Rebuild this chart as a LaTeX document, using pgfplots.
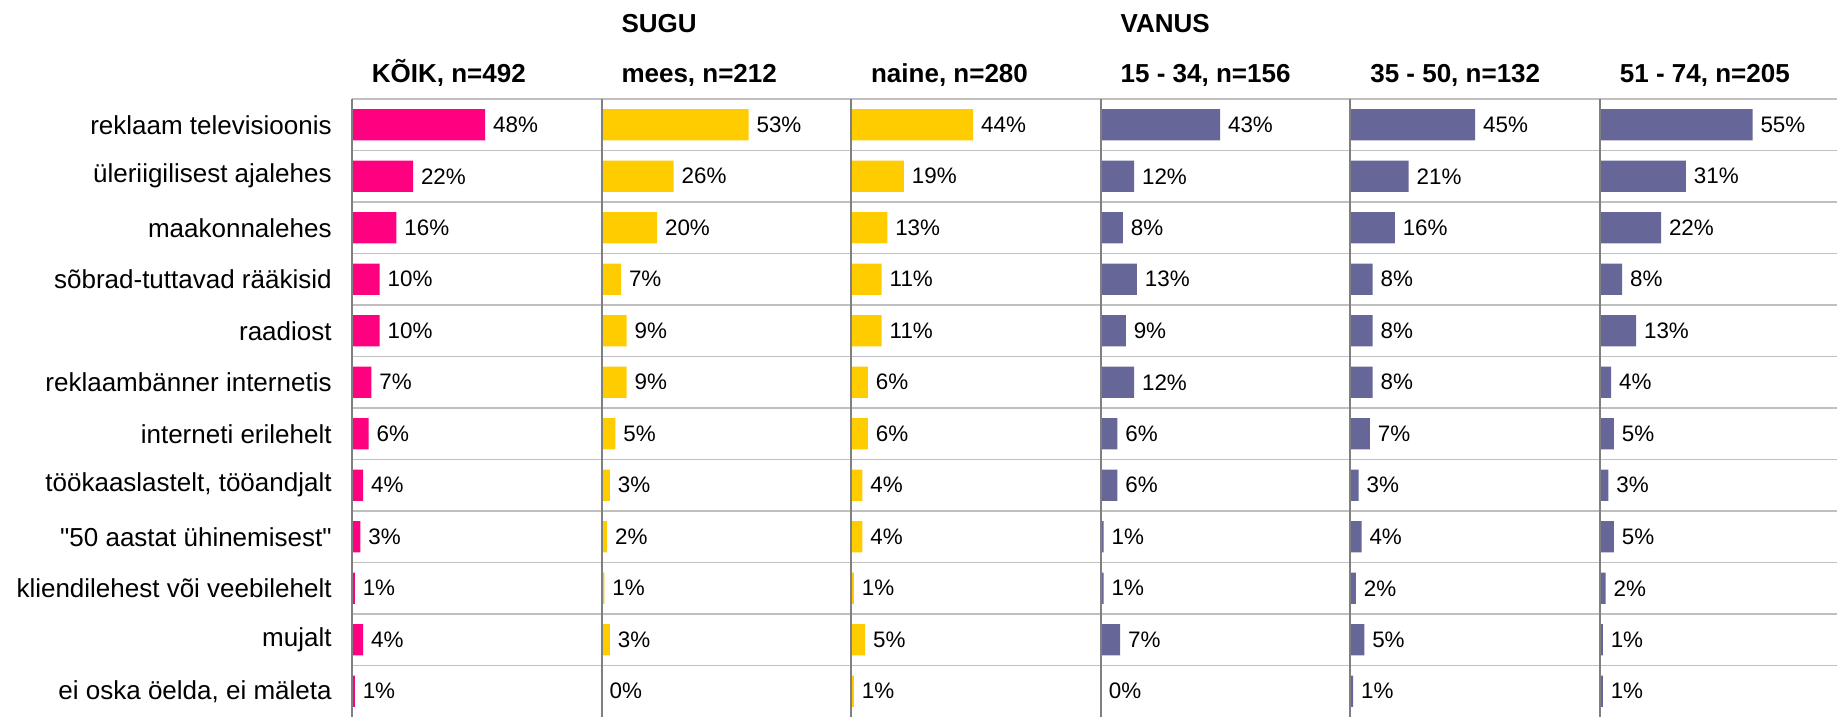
\documentclass[border=0pt]{standalone}
\usepackage{pgfplots}
\usepackage{pgfplotstable}
\pgfplotsset{compat=1.18}
\usepackage{fontspec}
\setmainfont{Liberation Sans}
\definecolor{pinkc}{HTML}{FF0080}
\definecolor{goldc}{HTML}{FFCC00}
\definecolor{purplec}{HTML}{666699}
\definecolor{axisgray}{HTML}{808080}
\definecolor{gridgray}{HTML}{C0C0C0}
\newcommand\catfont{\fontsize{13}{15}\selectfont}
\newcommand\valfont{\fontsize{11.2}{13}\selectfont}
\newcommand\titfont{\fontsize{13}{15}\selectfont\bfseries}

\pgfplotstableread{
i  k   m   n   a   b   c
1  48  53  44  43  45  55
2  22  26  19  12  21  31
3  16  20  13  8   16  22
4  10  7   11  13  8   8
5  10  9   11  9   8   13
6  7   9   6   12  8   4
7  6   5   6   6   7   5
8  4   3   4   6   3   3
9  3   2   4   1   4   5
10 1   1   1   1   2   2
11 4   3   5   7   5   1
12 1   0   1   0   1   1
}\data

\pgfplotsset{panel/.style={
  xbar, scale only axis, width=124.8pt, height=309pt,
  xmin=0, xmax=90, ymin=0.5, ymax=12.5, y dir=reverse,
  axis x line=none, axis y line*=left, axis on top,
  y axis line style={-, draw=axisgray, line width=1pt},
  ytick={1,...,12}, yticklabels={}, major tick length=0,
  minor ytick={0.5,1.5,...,11.5}, yminorgrids=true,
  minor grid style={draw=gridgray, line width=0.65pt}, minor tick length=0,
  bar width=15.7pt, point meta=x,
  /pgf/number format/assume math mode=true,
  nodes near coords={\pgfmathprintnumber[fixed,precision=0,assume math mode=true]{\pgfplotspointmeta}\%},
  every node near coord/.append style={font=\valfont, anchor=west, inner sep=0pt, xshift=3.8pt, text=black},
  title style={at={(0,1)}, anchor=base west, xshift=9.75pt, yshift=2pt, inner sep=0pt, font=\titfont},
  clip=false, anchor=south west,
}}

\begin{document}
\begin{tikzpicture}
\useasboundingbox (0,0) rectangle (918.5pt,358.5pt);
\begin{axis}[panel, at={(176pt,0pt)}, title={KÕIK, n=492},
  yticklabels={reklaam televisioonis, üleriigilisest ajalehes, maakonnalehes, sõbrad-tuttavad rääkisid, raadiost, reklaambänner internetis, interneti erilehelt, {töökaaslastelt, tööandjalt}, \textquotedbl50 aastat ühinemisest\textquotedbl, kliendilehest või veebilehelt, mujalt, {ei oska öelda, ei mäleta}},
  yticklabel style={anchor=east, font=\catfont, inner sep=0pt, xshift=-10pt}]
\addplot[fill=pinkc, draw=none] table[x=k, y=i] {\data};
\end{axis}
\begin{axis}[panel, at={(300.8pt,0pt)}, title={mees, n=212}]
\addplot[fill=goldc, draw=none] table[x=m, y=i] {\data};
\node[anchor=base west, inner sep=0pt, font=\titfont] at (rel axis cs:0,0) [yshift=342.15pt, xshift=9.75pt] {SUGU};
\end{axis}
\begin{axis}[panel, at={(425.6pt,0pt)}, title={naine, n=280}]
\addplot[fill=goldc, draw=none] table[x=n, y=i] {\data};
\end{axis}
\begin{axis}[panel, at={(550.4pt,0pt)}, title={15 - 34, n=156}]
\addplot[fill=purplec, draw=none] table[x=a, y=i] {\data};
\node[anchor=base west, inner sep=0pt, font=\titfont] at (rel axis cs:0,0) [yshift=342.15pt, xshift=9.75pt] {VANUS};
\end{axis}
\begin{axis}[panel, at={(675.2pt,0pt)}, title={35 - 50, n=132}]
\addplot[fill=purplec, draw=none] table[x=b, y=i] {\data};
\end{axis}
\begin{axis}[panel, at={(800pt,0pt)}, width=118.5pt, xmax=85.46, title={51 - 74, n=205}]
\addplot[fill=purplec, draw=none] table[x=c, y=i] {\data};
\end{axis}
\end{tikzpicture}
\end{document}
